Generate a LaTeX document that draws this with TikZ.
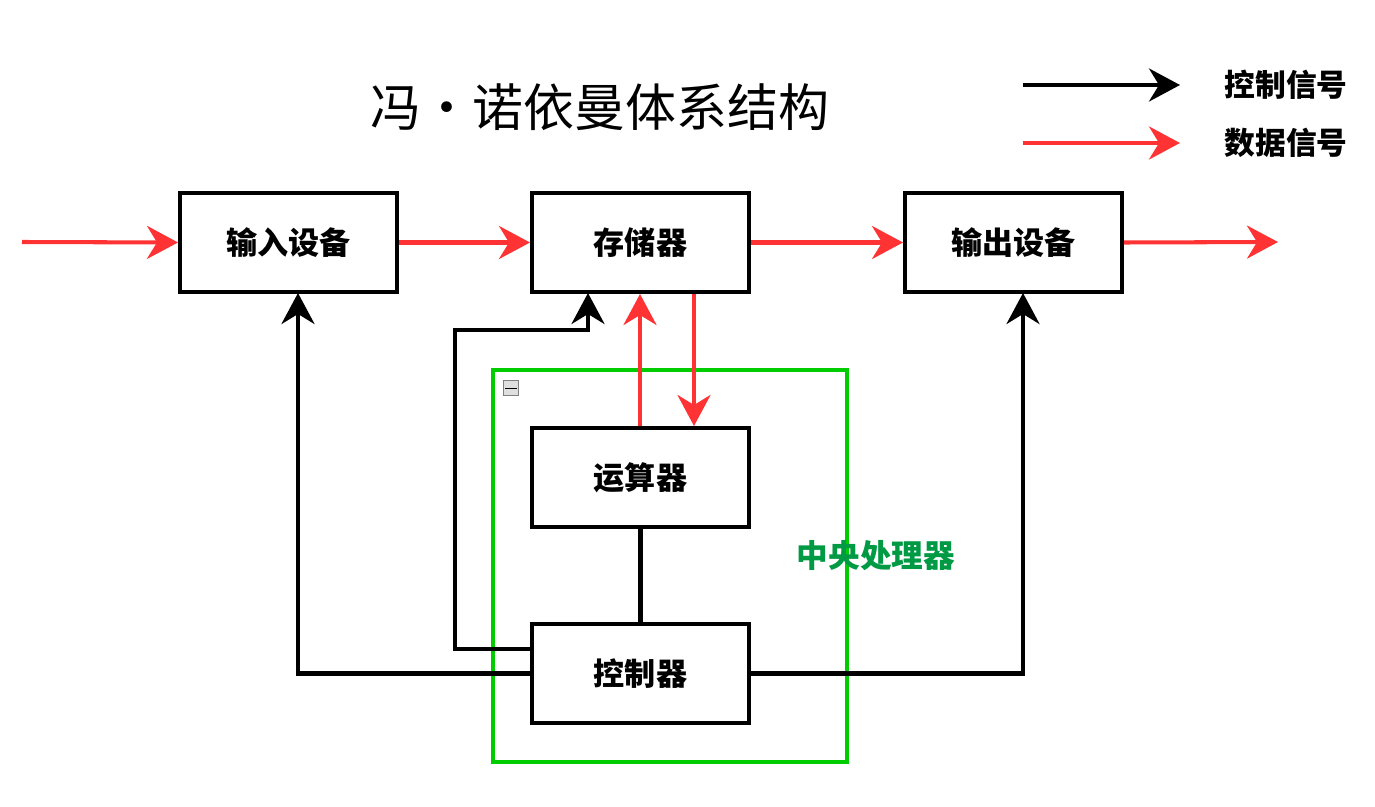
\documentclass[tikz,border=0pt]{standalone}
\usepackage{fontspec}
\setmainfont{Noto Sans CJK SC}
\usetikzlibrary{arrows.meta}
\tikzset{
  unit/.style={draw, line width=2.3pt, minimum width=4.34cm, minimum height=1.98cm, font=\bfseries\fontsize{17.7}{20}\selectfont},
  ctrl/.style={line width=2.3pt, -{Stealth[length=0.62cm,width=0.66cm,inset=0.2cm]}},
  data/.style={ctrl, draw={rgb,255:red,255;green,51;blue,51}},
}
\begin{document}
\begin{tikzpicture}[x=0.02cm, y=-0.02cm]
      \useasboundingbox (0,0) rectangle (1375,807);
      \node[font=\fontsize{29}{32}\selectfont] (title) at (600,107) {冯·诺依曼体系结构};
      % legend
      \coordinate (k1) at (1023,85); \coordinate (k2) at (1180,85);
      \coordinate (d1) at (1023,143); \coordinate (d2) at (1180,143);
      \draw[ctrl] (k1) -- (k2);
      \draw[data] (d1) -- (d2);
      \node[font=\bfseries\fontsize{17.5}{20}\selectfont] (lk) at (1286,85) {控制信号};
      \node[font=\bfseries\fontsize{17.5}{20}\selectfont] (ld) at (1286,143) {数据信号};
      % cpu frame
      \draw[line width=2.3pt, draw={rgb,255:red,0;green,204;blue,0}] (493,370) rectangle (847,762);
      \node[draw=gray, fill=gray!25, inner sep=0pt, minimum size=0.3cm] (fold) at (511,388) {};
      \draw (505,388) -- (517,388);
      \node[font=\bfseries\fontsize{18}{20}\selectfont, text={rgb,255:red,0;green,153;blue,68}] (cpu) at (876,556) {中央处理器};
      % units
      \node[unit] (in) at (288.5,242.5) {输入设备};
      \node[unit] (mem) at (640.5,242.5) {存储器};
      \node[unit] (out) at (1013.5,242.5) {输出设备};
      \node[unit] (alu) at (640.5,477.5) {运算器};
      \node[unit] (cu) at (640.5,673.5) {控制器};
      \coordinate (src) at (22,242); \coordinate (dst) at (1278,242);
      % data
      \draw[data] (src) -- (in.west);
      \draw[data] (in.east) -- (mem.west);
      \draw[data] (mem.east) -- (out.west);
      \draw[data] (out.east) -- (dst);
      \draw[data] (alu.north -| 640,0) -- (mem.south -| 640,0);
      \draw[data] (mem.south -| 694,0) -- (alu.north -| 694,0);
      % control
      \draw[line width=2.3pt] (alu) -- (cu);
      \draw[ctrl] (cu.west) -| (298,293);
      \draw[ctrl] (cu.east) -| (1023,293);
      \draw[ctrl] (cu.west |- 0,649) -- (455,649) -- (455,330) -| (588,293);
\end{tikzpicture}
\end{document}
